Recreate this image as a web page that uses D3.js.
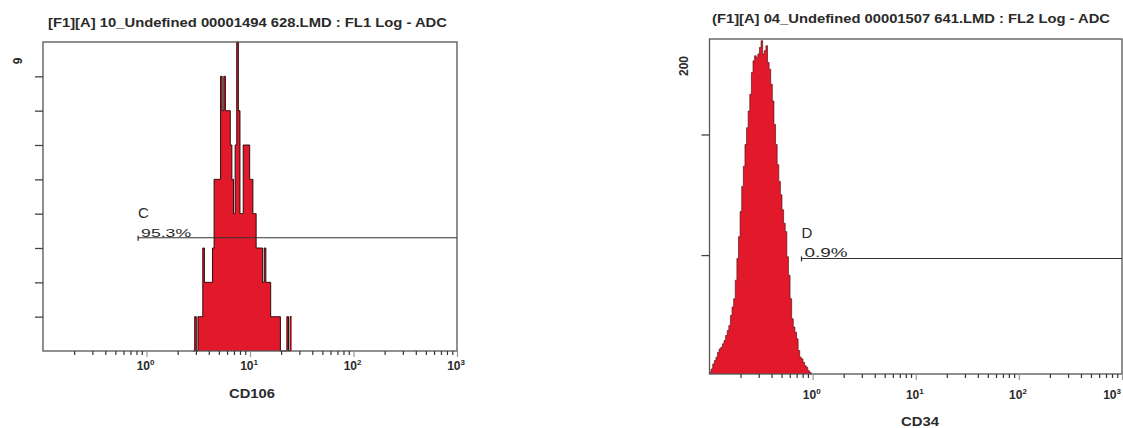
<!DOCTYPE html>
<html>
<head>
<meta charset="utf-8">
<script src="https://cdn.jsdelivr.net/npm/d3@7"></script>
<style>
body { margin: 0; background: #fff; }
svg text { font-family: "Liberation Sans", Arial, sans-serif; font-weight: bold; fill: #2a2a2a; }
</style>
</head>
<body>
<div id="chart"></div>
<script>
// data (counts per 1/64 decade bin)
var leftTitle = "[F1][A] 10_Undefined 00001494 628.LMD : FL1 Log - ADC";
var rightTitle = "(F1][A] 04_Undefined 00001507 641.LMD : FL2 Log - ADC";
var leftMarker = "CD106";
var rightMarker = "CD34";

var leftStart = 0.45;   // log10 of first bin edge
var leftCounts = [0, 1, 0, 1, 1, 1, 3, 2, 2, 2, 2, 2, 3, 5, 5, 5, 5, 8, 7, 8,
  7, 7, 7, 6, 5, 4, 6, 9, 7, 4, 4, 6, 6, 6, 6, 5, 5, 4, 4, 3,
  3, 3, 3, 2, 3, 2, 2, 2, 1, 1, 1, 1, 1, 1, 0, 0, 0, 0, 1, 0, 1];

var rightStart = -1;
var rightCounts = [1, 3, 6, 8, 10, 13, 15, 16, 18, 20, 23, 26, 29, 35, 40, 45, 56, 69, 82, 97,
  112, 124, 137, 147, 157, 167, 180, 187, 190, 189, 191, 195, 199, 191, 193, 196, 186, 182, 173, 163,
  149, 137, 125, 115, 107, 98, 90, 85, 70, 59, 45, 33, 28, 25, 21, 14, 10, 9, 7, 5,
  4, 2, 1, 0];

var leftYMax = 9, leftYTicks = [1, 2, 3, 4, 5, 6, 7, 8];
var rightYMax = 200, rightYTicks = [71, 143];

var xMajor = [1, 10, 100, 1000];
var xExp = ["0", "1", "2", "3"];

var leftGate = { name: "C", pct: "95.3%", from: 0.83, level: 3.3 };
var rightGate = { name: "D", pct: "0.9%", from: 0.78, level: 69 };

var binWidth = 1 / 64;
var red = "#e2192a";

var svg = d3.select("#chart").append("svg")
  .attr("width", 1123)
  .attr("height", 428);

function panel(cfg) {
  var g = svg.append("g");
  var x = d3.scaleLog().domain([0.1, 1000]).range([cfg.x0, cfg.x1]);
  var y = d3.scaleLinear().domain([0, cfg.yMax]).range([cfg.y1, cfg.y0]);

  // histogram as a step path
  var pts = [];
  cfg.counts.forEach(function(c, i) {
    var a = Math.pow(10, cfg.start + i * binWidth);
    var b = Math.pow(10, cfg.start + (i + 1) * binWidth);
    pts.push([a, c], [b, c]);
  });
  var area = d3.area()
    .x(d => x(d[0]))
    .y0(y(0))
    .y1(d => y(d[1]));
  var line = d3.line()
    .x(d => x(d[0]))
    .y(d => y(d[1]));

  g.append("path")
    .attr("d", area(pts))
    .style("fill", red);
  g.append("path")
    .attr("d", line(pts))
    .style("fill", "none")
    .style("stroke", cfg.edge)
    .style("stroke-width", cfg.edgeW);

  // frame
  g.append("rect")
    .attr("x", cfg.x0)
    .attr("y", cfg.y0)
    .attr("width", cfg.x1 - cfg.x0)
    .attr("height", cfg.y1 - cfg.y0)
    .style("fill", "none")
    .style("stroke", "#555")
    .style("stroke-width", 1.3);

  // y axis ticks
  var ya = g.append("g")
    .attr("transform", "translate(" + cfg.x0 + ",0)")
    .call(d3.axisLeft(y).tickValues(cfg.yTicks).tickSize(8).tickFormat(""));
  ya.select(".domain").remove();
  ya.selectAll("line").style("stroke", "#444").style("stroke-width", 1.3);

  g.append("text")
    .attr("transform", "translate(" + cfg.yLabX + "," + cfg.yLabY + ") rotate(-90)")
    .attr("text-anchor", "middle")
    .attr("dy", "0.35em")
    .style("font-size", "12px")
    .text(cfg.yMax);

  // x axis: minor and major ticks
  var minor = x.ticks().filter(v => xMajor.indexOf(v) < 0 && v > 0.1);
  var xa = g.append("g")
    .attr("transform", "translate(0," + cfg.y1 + ")")
    .call(d3.axisBottom(x).tickValues(minor).tickSize(4).tickFormat(""));
  xa.select(".domain").remove();
  xa.selectAll("line").style("stroke", "#333").style("stroke-width", 1.2);

  var xb = g.append("g")
    .attr("transform", "translate(0," + cfg.y1 + ")")
    .call(d3.axisBottom(x).tickValues(xMajor).tickSize(6).tickFormat(""));
  xb.select(".domain").remove();
  xb.selectAll("line").style("stroke", "#999").style("stroke-width", 1.2);

  xMajor.forEach(function(v, i) {
    var t = g.append("text")
      .attr("x", Math.min(x(v) + 8, 1121))
      .attr("y", cfg.labY)
      .attr("text-anchor", "end")
      .style("font-size", "12px");
    t.append("tspan").text("10");
    t.append("tspan")
      .attr("dy", "-5")
      .style("font-size", "8px")
      .text(xExp[i]);
  });

  g.append("text")
    .attr("x", cfg.mkX)
    .attr("y", cfg.mkY)
    .attr("text-anchor", "middle")
    .attr("textLength", cfg.mkW)
    .attr("lengthAdjust", "spacingAndGlyphs")
    .style("font-size", "12px")
    .text(cfg.marker);

  // title
  g.append("text")
    .attr("x", cfg.tX)
    .attr("y", cfg.tY)
    .attr("textLength", cfg.tW)
    .attr("lengthAdjust", "spacingAndGlyphs")
    .style("font-size", "12px")
    .text(cfg.title);

  // gate
  var gy = y(cfg.gate.level), gx = x(cfg.gate.from);
  g.append("line")
    .attr("x1", gx).attr("x2", cfg.x1)
    .attr("y1", gy).attr("y2", gy)
    .style("stroke", "#333").style("stroke-width", 1.1);
  g.append("line")
    .attr("x1", gx).attr("x2", gx)
    .attr("y1", gy - 2).attr("y2", gy + 3)
    .style("stroke", "#333").style("stroke-width", 1.3);
  g.append("text")
    .attr("x", gx)
    .attr("y", gy - 20)
    .style("font-size", "15px")
    .style("font-weight", "normal")
    .text(cfg.gate.name);
  g.append("text")
    .attr("x", gx + 3)
    .attr("y", gy - 1)
    .attr("textLength", cfg.pctW)
    .attr("lengthAdjust", "spacingAndGlyphs")
    .style("font-size", cfg.pctSize)
    .style("font-weight", "normal")
    .text(cfg.gate.pct);
}

panel({
  x0: 43, x1: 457, y0: 42, y1: 351,
  yMax: leftYMax, yTicks: leftYTicks, start: leftStart, counts: leftCounts,
  edge: "#1a0000", edgeW: 0.9,
  yLabX: 18, yLabY: 61, labY: 370,
  marker: leftMarker, mkX: 252, mkY: 398, mkW: 46,
  title: leftTitle, tX: 48, tY: 27, tW: 399,
  gate: leftGate, pctW: 50, pctSize: "11px"
});

panel({
  x0: 709.5, x1: 1122, y0: 39, y1: 374,
  yMax: rightYMax, yTicks: rightYTicks, start: rightStart, counts: rightCounts,
  edge: "#4a0008", edgeW: 0.6,
  yLabX: 684, yLabY: 66, labY: 399,
  marker: rightMarker, mkX: 920, mkY: 426, mkW: 38,
  title: rightTitle, tX: 712, tY: 23, tW: 398,
  gate: rightGate, pctW: 43, pctSize: "12px"
});
</script>
</body>
</html>
